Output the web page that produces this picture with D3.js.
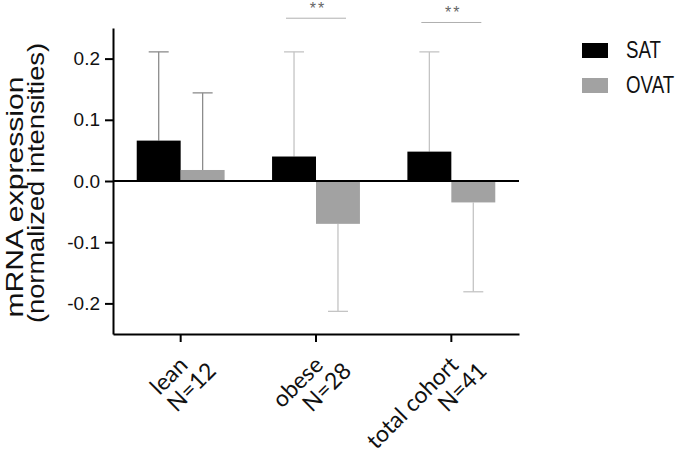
<!DOCTYPE html>
<html lang="en">
<head>
  <meta charset="utf-8">
  <title>mRNA expression SAT vs OVAT</title>
  <script src="https://d3js.org/d3.v7.min.js"></script>
  <style>
    body { margin: 0; background: #fff; }
    svg text { font-family: "Liberation Sans", Arial, sans-serif; }
    .xlab text { font-family: Lato, "Liberation Sans", sans-serif; }
  </style>
</head>
<body>
  <div id="chart"></div>

  <script>
    "use strict"

    // dados
    var categorias = ["lean", "obese", "total cohort"];
    var rotulosN = ["N=12", "N=28", "N=41"];
    var series = ["SAT", "OVAT"];
    var mediaSAT = [0.066, 0.040, 0.048];
    var mediaOVAT = [0.018, -0.070, -0.035];
    var dpSAT = [0.145, 0.171, 0.163];
    var dpOVAT = [0.126, 0.143, 0.146];
    var marcasY = [-0.2, -0.1, 0.0, 0.1, 0.2];
    var signif = ["obese", "total cohort"];
    var signifY = [0.266, 0.259];

    var cores = {SAT: "#000000", OVAT: "#a2a2a2"};
    var corErro = ["#8c8c8c", "#c4c4c4", "#c4c4c4"];

    var largura = 685, altura = 458;
    var esq = 113, dir = 519, topo = 28, base = 334;

    var svg = d3.select("#chart").append("svg")
      .attr("width", largura)
      .attr("height", altura);

    var x = d3.scaleBand().domain(categorias).range([esq, dir]);
    var x1 = d3.scaleBand().domain(series).range([0, x.bandwidth()]).paddingOuter(0.54);
    var y = d3.scaleLinear().domain([-0.25, 0.25]).range([base, topo]);

    var dados = [];
    categorias.forEach(function(c, i) {
      dados.push({cat: c, serie: "SAT", media: mediaSAT[i], dp: dpSAT[i], i: i});
      dados.push({cat: c, serie: "OVAT", media: mediaOVAT[i], dp: dpOVAT[i], i: i});
    });

    function centro(d) { return x(d.cat) + x1(d.serie) + x1.bandwidth() / 2; }
    function ponta(d) { return y(d.media + (d.media >= 0 ? d.dp : -d.dp)); }

    // barras de erro (atras das barras)
    var erros = svg.append("g").selectAll("g")
      .data(dados).enter().append("g")
      .attr("stroke", function(d) { return corErro[d.i]; })
      .attr("stroke-width", 1.3);

    erros.append("line")
      .attr("x1", centro).attr("x2", centro)
      .attr("y1", function(d) { return y(d.media); })
      .attr("y2", ponta);

    erros.append("line")
      .attr("x1", function(d) { return centro(d) - 10; })
      .attr("x2", function(d) { return centro(d) + 10; })
      .attr("y1", ponta).attr("y2", ponta);

    svg.append("g").selectAll("rect")
      .data(dados).enter().append("rect")
      .attr("x", function(d) { return x(d.cat) + x1(d.serie); })
      .attr("width", x1.bandwidth())
      .attr("y", function(d) { return y(Math.max(0, d.media)); })
      .attr("height", function(d) { return Math.abs(y(d.media) - y(0)); })
      .attr("fill", function(d) { return cores[d.serie]; });

    // linha do zero
    svg.append("line")
      .attr("x1", esq).attr("x2", dir)
      .attr("y1", y(0)).attr("y2", y(0))
      .attr("stroke", "#000").attr("stroke-width", 2);

    // eixo y
    var eixoY = svg.append("g")
      .attr("transform", "translate(" + esq + ",0)")
      .call(d3.axisLeft(y).tickValues(marcasY).tickSize(8).tickSizeOuter(0).tickPadding(5));
    eixoY.select(".domain").attr("stroke-width", 2);
    eixoY.selectAll(".tick line").attr("stroke-width", 2);
    eixoY.selectAll(".tick text").attr("font-size", 19).attr("fill", "#111")
      .attr("font-family", "'Liberation Sans', Arial, sans-serif")
      .text(function(d) { return d3.format(".1f")(d).replace("−", "-"); });

    // eixo x
    var eixoX = svg.append("g")
      .attr("transform", "translate(0," + base + ")")
      .call(d3.axisBottom(x).tickSize(8).tickSizeOuter(0).tickFormat(""));
    eixoX.select(".domain").attr("stroke-width", 2);
    eixoX.selectAll(".tick line").attr("stroke-width", 2);

    var rot = svg.append("g").attr("class", "xlab").selectAll("g")
      .data(categorias).enter().append("g")
      .attr("transform", function(d) {
        return "translate(" + (x(d) + x.bandwidth() / 2) + "," + base + ") rotate(-45)";
      });
    rot.append("text")
      .attr("x", -17).attr("y", 29)
      .attr("text-anchor", "end").attr("font-size", 23).attr("fill", "#111")
      .text(function(d) { return d; });
    rot.append("text")
      .attr("x", -1).attr("y", 53)
      .attr("text-anchor", "end").attr("font-size", 23).attr("fill", "#111")
      .text(function(d, i) { return rotulosN[i]; });

    // rotulo do eixo y
    svg.append("text")
      .attr("transform", "translate(23,197) rotate(-90)")
      .attr("text-anchor", "middle").attr("font-size", 24).attr("fill", "#111")
      .attr("textLength", 241).attr("lengthAdjust", "spacingAndGlyphs")
      .text("mRNA expression");
    svg.append("text")
      .attr("transform", "translate(44,183) rotate(-90)")
      .attr("text-anchor", "middle").attr("font-size", 24).attr("fill", "#111")
      .attr("textLength", 280).attr("lengthAdjust", "spacingAndGlyphs")
      .text("(normalized intensities)");

    // significancia
    var sig = svg.append("g").selectAll("g")
      .data(signif).enter().append("g");
    sig.append("line")
      .attr("x1", function(d) { return x(d) + x.bandwidth() / 2 - 30; })
      .attr("x2", function(d) { return x(d) + x.bandwidth() / 2 + 30; })
      .attr("y1", function(d, i) { return y(signifY[i]); })
      .attr("y2", function(d, i) { return y(signifY[i]); })
      .attr("stroke", "#b0b0b0").attr("stroke-width", 1);
    sig.append("text")
      .attr("x", function(d) { return x(d) + x.bandwidth() / 2 + 2; })
      .attr("y", function(d, i) { return y(signifY[i]) - 4; })
      .attr("text-anchor", "middle").attr("font-size", 16).attr("fill", "#666")
      .attr("letter-spacing", 2)
      .text("**");

    // legenda
    var leg = svg.append("g").selectAll("g")
      .data(series).enter().append("g")
      .attr("transform", function(d, i) { return "translate(582," + (43 + i * 35) + ")"; });
    leg.append("rect")
      .attr("width", 26).attr("height", 15)
      .attr("fill", function(d) { return cores[d]; });
    leg.append("text")
      .attr("transform", "translate(44,15) scale(0.78,1)")
      .attr("font-size", 24).attr("fill", "#111")
      .text(function(d) { return d; });
  </script>
</body>
</html>
